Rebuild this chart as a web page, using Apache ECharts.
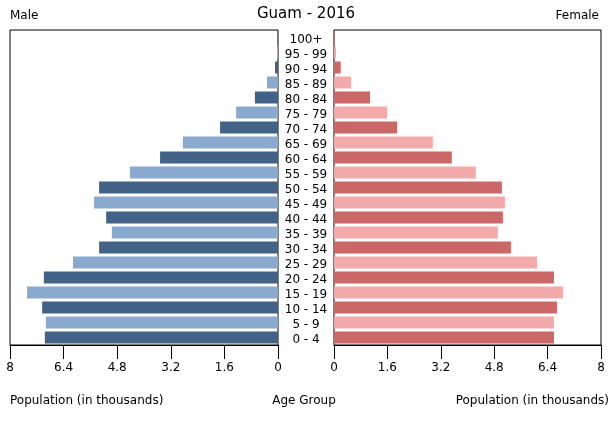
<!DOCTYPE html>
<html>
<head>
<meta charset="utf-8">
<script src="https://cdn.jsdelivr.net/npm/echarts@6/dist/echarts.min.js"></script>
<style>
  html, body { margin: 0; padding: 0; background: #fff; }
  #chart { width: 610px; height: 425px; }
</style>
</head>
<body>
<div id="chart"></div>
<script>
(function () {
  'use strict';

  var AGE_GROUPS = ['0 - 4', '5 - 9', '10 - 14', '15 - 19', '20 - 24', '25 - 29', '30 - 34',
    '35 - 39', '40 - 44', '45 - 49', '50 - 54', '55 - 59', '60 - 64', '65 - 69', '70 - 74',
    '75 - 79', '80 - 84', '85 - 89', '90 - 94', '95 - 99', '100+'];

  // population in thousands
  var MALE = [6.96, 6.93, 7.04, 7.49, 6.99, 6.12, 5.34, 4.96, 5.13, 5.49, 5.34,
    4.42, 3.52, 2.84, 1.73, 1.25, 0.69, 0.33, 0.09, 0.03, 0.01];
  var FEMALE = [6.59, 6.59, 6.68, 6.86, 6.59, 6.08, 5.30, 4.91, 5.06, 5.12, 5.03,
    4.25, 3.53, 2.96, 1.89, 1.59, 1.08, 0.51, 0.20, 0.06, 0.01];

  var AXIS_MAX = 8;
  var AXIS_STEP = 1.6;

  var MALE_COLORS = ['#436288', '#89a9cf'];
  var FEMALE_COLORS = ['#cb6767', '#f3aaaa'];
  var FONT = 'DejaVu Sans';

  function bars(values, colors) {
    return values.map(function (v, i) {
      return { value: v, itemStyle: { color: colors[i % 2] } };
    });
  }

  function valueAxis(gridIndex, inverse) {
    return {
      type: 'value', gridIndex: gridIndex, inverse: inverse,
      min: 0, max: AXIS_MAX, interval: AXIS_STEP,
      axisLine: { show: true, lineStyle: { color: '#000', width: 1 } },
      axisTick: { show: true, length: 14, lineStyle: { color: '#000', width: 1 } },
      axisLabel: {
        color: '#000', fontSize: 12, fontFamily: FONT, margin: 17,
        formatter: function (v) { return String(Math.round(v * 10) / 10); },
      },
      splitLine: { show: false },
    };
  }

  function text(x, y, str, align, size) {
    return {
      type: 'text', x: x, y: y,
      style: {
        text: str, fill: '#000', font: (size || 12) + 'px "' + FONT + '"',
        textAlign: align, textVerticalAlign: 'middle',
      },
    };
  }

  var chart = echarts.init(document.getElementById('chart'), null, { renderer: 'canvas' });
  chart.setOption({
    backgroundColor: '#fff',
    animation: false,
    grid: [
      { left: 10, right: 332, top: 30, bottom: 80, show: true, borderColor: '#000', borderWidth: 1, backgroundColor: 'transparent' },
      { left: 334, right: 9, top: 30, bottom: 80, show: true, borderColor: '#000', borderWidth: 1, backgroundColor: 'transparent' },
    ],
    xAxis: [valueAxis(0, true), valueAxis(1, false)],
    yAxis: [
      {
        type: 'category', gridIndex: 0, position: 'right', data: AGE_GROUPS,
        axisLine: { show: false }, axisTick: { show: false },
        axisLabel: {
          color: '#000', fontSize: 12, fontFamily: FONT, align: 'center', margin: 28,
          interval: 0,
          formatter: function (v) { return '{age|' + v + '}'; },
          rich: { age: { color: '#000', fontSize: 12, fontFamily: FONT, padding: [5, 0, 0, 0] } },
        },
      },
      {
        type: 'category', gridIndex: 1, data: AGE_GROUPS,
        axisLine: { show: false }, axisTick: { show: false }, axisLabel: { show: false },
      },
    ],
    series: [
      { type: 'bar', name: 'Male', xAxisIndex: 0, yAxisIndex: 0, barCategoryGap: '20%', data: bars(MALE, MALE_COLORS) },
      { type: 'bar', name: 'Female', xAxisIndex: 1, yAxisIndex: 1, barCategoryGap: '20%', data: bars(FEMALE, FEMALE_COLORS) },
    ],
    graphic: [
      text(306, 14, 'Guam - 2016', 'center', 15),
      text(10, 16, 'Male', 'left', 12),
      text(599, 16, 'Female', 'right', 12),
      text(10, 401, 'Population (in thousands)', 'left', 12),
      text(304, 401, 'Age Group', 'center', 12),
      text(609, 401, 'Population (in thousands)', 'right', 12),
    ],
  });
})();
</script>
</body>
</html>
